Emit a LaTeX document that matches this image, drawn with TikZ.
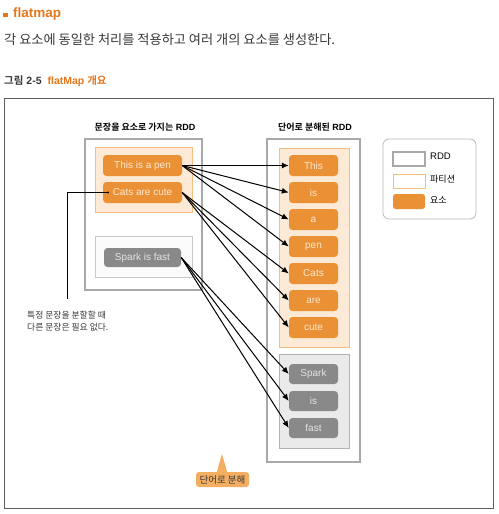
\documentclass[tikz,border=0pt]{standalone}
\usepackage{fontspec}
\setmainfont{Liberation Sans}
\newfontfamily\kr{Noto Sans CJK KR}[BoldFont={Noto Sans CJK KR Bold}]
\usetikzlibrary{arrows.meta}
\definecolor{titleor}{RGB}{228,118,28}
\definecolor{elemor}{RGB}{234,145,54}
\definecolor{elemtxt}{RGB}{253,232,208}
\definecolor{partfill}{RGB}{252,234,215}
\definecolor{partline}{RGB}{246,188,128}
\definecolor{grayel}{RGB}{137,137,137}
\definecolor{graytxt}{RGB}{228,228,228}
\definecolor{gpartfill}{RGB}{234,234,234}
\definecolor{gpartline}{RGB}{178,178,178}
\definecolor{rddline}{RGB}{168,168,168}
\definecolor{framec}{RGB}{95,95,95}
\definecolor{calloutc}{RGB}{243,174,98}
\definecolor{bodytxt}{RGB}{55,55,55}

\begin{document}
\begin{tikzpicture}[x=1pt,y=1pt]
\tikzstyle{every node}+=[inner sep=0pt]
\tikzstyle{elem}=[fill=elemor,rounded corners=3.5pt,minimum height=21pt,text=elemtxt,font=\fontsize{10}{12}\selectfont]
\tikzstyle{gelem}=[elem,fill=grayel,text=graytxt]
\tikzstyle{rdd}=[draw=rddline,line width=1.3pt,fill=white]
\tikzstyle{part}=[draw=partline,line width=0.6pt,fill=partfill]
\tikzstyle{gpart}=[draw=gpartline,line width=0.6pt,fill=gpartfill]
\tikzstyle{arr}=[-{Latex[length=7pt,width=6pt]},line width=1pt]
\tikzstyle{ttl}=[font=\bfseries\fontsize{9}{11}\selectfont]
\useasboundingbox (0,0) rectangle (498,-514);
\fill[titleor] (3,-12.5) rectangle (7.5,-17);
\draw (13,-14) node[anchor=west,text=titleor,font=\bfseries\fontsize{13.5}{15}\selectfont] (head) {flatmap};
\draw (4,-40) node[anchor=west,text=bodytxt,font=\kr\fontsize{13.2}{15}\selectfont] (desc) {각 요소에 동일한 처리를 적용하고 여러 개의 요소를 생성한다.};
\draw (4,-81) node[anchor=west,ttl,text=bodytxt,font=\bfseries\fontsize{10.5}{12}\selectfont] (cap) {{\kr 그림} 2-5\hspace{6pt}\textcolor{titleor}{flatMap {\kr 개요}}};
\draw[framec,line width=0.8pt] (4,-98) rectangle (493,-508);
\draw[rdd] (85,-139) rectangle (202,-290);
\draw[part] (95,-147) rectangle (192,-212);
\draw[draw=gpartline!70,line width=0.6pt,fill=gray!3] (95,-236) rectangle (192,-277);
\draw (145,-127) node[ttl] (lttl) {{\kr 문장을 요소로 가지는} RDD};
\draw (142.5,-165.5) node[elem,minimum width=79pt] (s1) {This is a pen};
\draw (142.5,-192.5) node[elem,minimum width=79pt] (s2) {Cats are cute};
\draw (142.5,-257.5) node[gelem,minimum width=77pt,minimum height=19pt] (s3) {Spark is fast};
\draw[rdd] (267,-139) rectangle (360,-462);
\draw[part] (279,-148) rectangle (349,-347);
\draw[gpart] (279,-354) rectangle (349,-448);
\draw (315,-127) node[ttl] (rttl) {{\kr 단어로 분해된} RDD};
\draw (313.5,-165.5) node[elem,minimum width=49pt] (w1) {This};
\draw (313.5,-192.5) node[elem,minimum width=49pt] (w2) {is};
\draw (313.5,-219.5) node[elem,minimum width=49pt] (w3) {a};
\draw (313.5,-246.5) node[elem,minimum width=49pt] (w4) {pen};
\draw (313.5,-273.5) node[elem,minimum width=49pt] (w5) {Cats};
\draw (313.5,-300.5) node[elem,minimum width=49pt] (w6) {are};
\draw (313.5,-327.5) node[elem,minimum width=49pt] (w7) {cute};
\draw (313.5,-374) node[gelem,minimum width=49pt,minimum height=20pt] (g1) {Spark};
\draw (313.5,-401) node[gelem,minimum width=49pt,minimum height=20pt] (g2) {is};
\draw (313.5,-428) node[gelem,minimum width=49pt,minimum height=20pt] (g3) {fast};
\draw[arr] (s1.east) -- (w1.west);
\draw[arr] (s1.east) -- (w2.west);
\draw[arr] (s1.east) -- (w3.west);
\draw[arr] (s1.east) -- (w4.west);
\draw[arr] (s2.east) -- (w5.west);
\draw[arr] (s2.east) -- (w6.west);
\draw[arr] (s2.east) -- (w7.west);
\draw[arr] (s3.east) -- (g1.west);
\draw[arr] (s3.east) -- (g2.west);
\draw[arr] (s3.east) -- (g3.west);
\draw[rddline!80,line width=0.8pt,rounded corners=6pt] (383,-139) rectangle (476,-219);
\draw[rddline,line width=1.3pt] (393,-152) rectangle (425,-166);
\draw[partline,line width=0.8pt] (393,-174) rectangle (425,-188);
\fill[elemor,rounded corners=2.5pt] (393,-194) rectangle (425,-209);
\draw (430,-156) node[anchor=west,font=\fontsize{9.5}{11}\selectfont] (lg1) {RDD};
\draw (430,-179) node[anchor=west,font=\kr\fontsize{9}{10}\selectfont] (lg2) {파티션};
\draw (430,-200) node[anchor=west,font=\kr\fontsize{9}{10}\selectfont] (lg3) {요소};
\coordinate (dot) at (108,-192.5);
\coordinate (noteend) at (67,-299);
\fill (dot) circle (1.2pt);
\draw[line width=0.6pt] (dot) -| (noteend);
\draw (27,-321) node[anchor=west,align=left,text=bodytxt,font=\kr\fontsize{8.8}{12}\selectfont] (note) {특정 문장을 분할할 때\\다른 문장은 필요 없다.};
\fill[calloutc] (216.5,-473) -- (222,-454) -- (227.5,-473) -- cycle;
\draw (222.5,-479.5) node[fill=calloutc,rounded corners=3pt,minimum width=53pt,minimum height=15pt,text=bodytxt,font=\kr\fontsize{9.5}{10}\selectfont] (split) {단어로 분해};
\end{tikzpicture}
\end{document}
